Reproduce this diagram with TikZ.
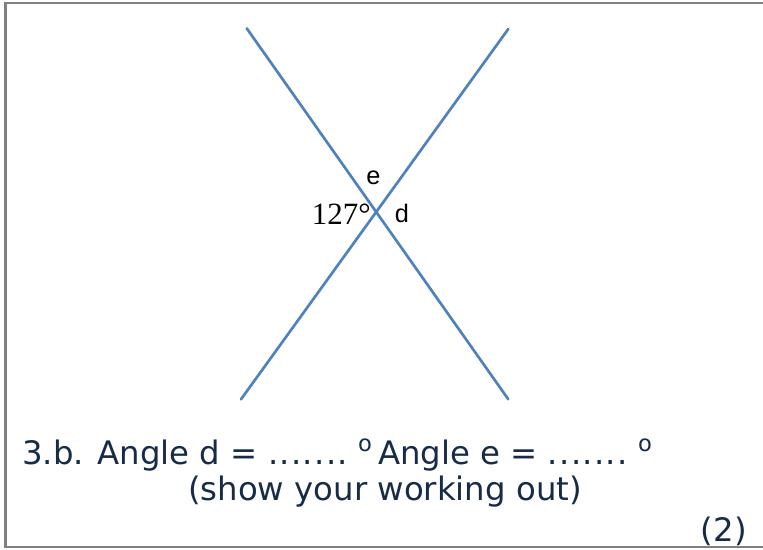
\documentclass[tikz,border=0pt]{standalone}
\usepackage{fontspec}
\setmainfont{DejaVu Sans}
\newfontfamily\arl{Liberation Sans}
\newfontfamily\tms{Liberation Serif}
\usetikzlibrary{positioning}
\definecolor{lnblue}{RGB}{79,129,189}
\definecolor{txnavy}{RGB}{23,43,72}
\definecolor{frgray}{RGB}{128,128,128}
\tikzset{
  ln/.style={draw=lnblue,line width=1.9pt,line cap=round},
  fr/.style={draw=frgray,line width=1.6pt},
  lb/.style={font=\arl\fontsize{18}{20}\selectfont,inner sep=0pt},
  ang/.style={font=\tms\fontsize{22}{24}\selectfont,inner sep=0pt},
  qs/.style={font=\fontsize{23}{28}\selectfont,text=txnavy,inner sep=0pt},
}
\newcommand{\dg}{\textsuperscript{o}}
\newcommand{\dts}{{\addfontfeature{LetterSpace=4}.......}}
\begin{document}
\begin{tikzpicture}[x=0.025cm,y=-0.025cm]
\useasboundingbox (0,0) rectangle (763,550);
% frame, open on the right
\draw[fr] (763,3) -- (5.5,3) -- (5.5,547) -- (763,547);
% the two crossing lines
\coordinate (a1) at (246.7,28.3); \coordinate (a2) at (508.3,399.3);
\coordinate (b1) at (508.3,29);   \coordinate (b2) at (241,399.3);
\draw[ln] (a1) -- (a2);
\draw[ln] (b1) -- (b2);
\node[lb] (e) at (373.5,178) {e};
\node[lb] (d) at (402,213) {d};
\node[ang,anchor=base east] (k) at (371,225) {127°};
% question text
\node[qs,anchor=base west] (q1) at (22,464.5) {3.b. Angle d = \dts\ \dg\,Angle e = \dts\ \dg};
\node[qs,anchor=base] (q2) at (385,500) {(show your working out)};
\node[qs,anchor=base east] (q3) at (747,541) {(2)};
\end{tikzpicture}
\end{document}
